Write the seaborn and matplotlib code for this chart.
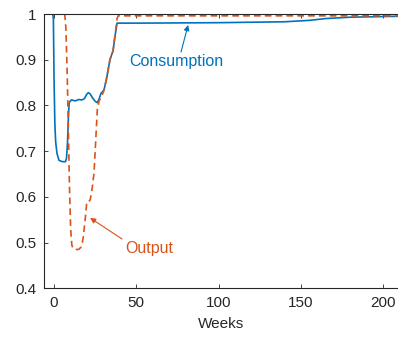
import matplotlib
matplotlib.use("Agg")
import matplotlib.pyplot as plt
import seaborn as sns
import pandas as pd

weeks_c = [-7, -0.8, -0.4, 0, 0.5, 1.0, 1.8, 3, 5, 7, 7.6, 8.2, 8.7, 9.2, 10.5, 13, 15, 17,
           18.5, 19.8, 20.9, 22, 23.5, 25, 26.3, 27.5, 28.5, 30.4, 32, 34, 35.9, 37, 38.3,
           50, 100, 140, 155, 165, 180, 209]
cons = [1, 1, 0.99, 0.86, 0.76, 0.72, 0.695, 0.68, 0.677, 0.677, 0.685, 0.72, 0.77, 0.806,
        0.812, 0.81, 0.813, 0.812, 0.815, 0.824, 0.828, 0.825, 0.816, 0.809, 0.806, 0.815,
        0.826, 0.834, 0.86, 0.90, 0.92, 0.95, 0.98, 0.98, 0.981, 0.983, 0.986, 0.990,
        0.993, 0.995]

weeks_o = [-7, 6.5, 7.2, 8, 8.7, 9.4, 10.1, 10.8, 11.5, 13, 15, 16.4, 17.2, 17.8, 18.6, 19.3,
           19.9, 21.2, 21.9, 22.6, 23.3, 24.3, 25.3, 26.3, 27.4, 29, 30.4, 32, 34, 35.9,
           37.3, 38.3, 39, 209]
output = [1, 1, 0.97, 0.87, 0.75, 0.62, 0.53, 0.495, 0.487, 0.485, 0.485, 0.49, 0.5, 0.513,
          0.54, 0.564, 0.589, 0.59, 0.593, 0.605, 0.622, 0.652, 0.72, 0.79, 0.81, 0.82,
          0.834, 0.86, 0.90, 0.92, 0.96, 0.99, 0.996, 0.996]

xticks = [0, 50, 100, 150, 200]
yticks = [0.4, 0.5, 0.6, 0.7, 0.8, 0.9, 1.0]
ytick_labels = ["0.4", "0.5", "0.6", "0.7", "0.8", "0.9", "1"]

BLUE = "#0072BD"
ORANGE = "#D95319"
INK = "#262626"

sns.set_style("ticks")
plt.rcParams["font.family"] = ["Liberation Sans", "DejaVu Sans"]

fig = plt.figure(figsize=(3.98, 3.39), dpi=100)
ax = fig.add_axes([44/398, 1-288.3/339, 354/398, 274.3/339])

df_c = pd.DataFrame({"Weeks": weeks_c, "v": cons})
df_o = pd.DataFrame({"Weeks": weeks_o, "v": output})
sns.lineplot(data=df_c, x="Weeks", y="v", ax=ax, color=BLUE, lw=1.2, sort=False)
sns.lineplot(data=df_o, x="Weeks", y="v", ax=ax, color=ORANGE, lw=1.2, sort=False,
             linestyle=(0, (4, 2.5)))

ax.set_xlim(-6.1, 209.1)
ax.set_ylim(0.4, 1.0)
ax.set_xticks(xticks)
ax.set_yticks(yticks)
ax.set_yticklabels(ytick_labels)
ax.set_xlabel("Weeks", fontsize=11, color=INK, labelpad=5)
ax.set_ylabel("")
ax.tick_params(direction="in", length=3, width=0.6, labelsize=11, colors=INK,
               top=True, right=False, pad=5.5)
for s in ["left", "bottom", "top"]:
    ax.spines[s].set_linewidth(0.8)
    ax.spines[s].set_color(INK)
ax.spines["right"].set_visible(False)

# Consumption label + arrow
ax.text(74.2, 0.897, "Consumption", color=BLUE, fontsize=11.5, ha="center", va="center")
ax.annotate("", xy=(81.5, 0.976), xytext=(77.2, 0.917),
            arrowprops=dict(arrowstyle="-|>", color=BLUE, lw=0.8, mutation_scale=8,
                            shrinkA=0, shrinkB=0))
# Output label + arrow
ax.text(57.8, 0.488, "Output", color=ORANGE, fontsize=11.5, ha="center", va="center")
ax.annotate("", xy=(21.9, 0.554), xytext=(41.3, 0.508),
            arrowprops=dict(arrowstyle="-|>", color=ORANGE, lw=0.8, mutation_scale=8,
                            shrinkA=0, shrinkB=0))

fig.savefig("out.png", dpi=100)
